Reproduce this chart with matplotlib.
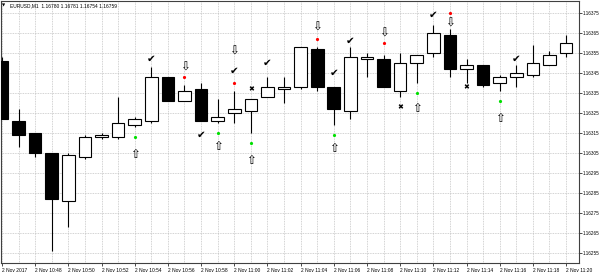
import matplotlib
matplotlib.use("Agg")
import matplotlib.pyplot as plt

# данные свечей EURUSD M1, 2 Nov 2017 10:46 .. 11:20
times = ["10:46", "10:47", "10:48", "10:49", "10:50", "10:51", "10:52", "10:53", "10:54",
         "10:55", "10:56", "10:57", "10:58", "10:59", "11:00", "11:01", "11:02", "11:03",
         "11:04", "11:05", "11:06", "11:07", "11:08", "11:09", "11:10", "11:11", "11:12",
         "11:13", "11:14", "11:15", "11:16", "11:17", "11:18", "11:19", "11:20"]
opens = [1.16351, 1.16321, 1.16315, 1.16305, 1.16281, 1.16303, 1.16313, 1.16313, 1.16319,
         1.16321, 1.16343, 1.16331, 1.16337, 1.16321, 1.16325, 1.16326, 1.16333, 1.16337,
         1.16338, 1.16357, 1.16338, 1.16326, 1.16352, 1.16352, 1.16336, 1.16350, 1.16355,
         1.16364, 1.16347, 1.16349, 1.16340, 1.16343, 1.16344, 1.16349, 1.16355]
highs = [1.16353, 1.16327, 1.16315, 1.16305, 1.16305, 1.16314, 1.16315, 1.16333, 1.16323,
         1.16348, 1.16343, 1.16339, 1.16340, 1.16332, 1.16336, 1.16332, 1.16343, 1.16343,
         1.16358, 1.16358, 1.16338, 1.16358, 1.16355, 1.16354, 1.16355, 1.16354, 1.16369,
         1.16367, 1.16352, 1.16349, 1.16344, 1.16349, 1.16359, 1.16356, 1.16364]
lows = [1.16322, 1.16308, 1.16303, 1.16256, 1.16268, 1.16302, 1.16312, 1.16312, 1.16318,
        1.16320, 1.16331, 1.16331, 1.16321, 1.16320, 1.16320, 1.16315, 1.16333, 1.16330,
        1.16337, 1.16336, 1.16319, 1.16322, 1.16343, 1.16338, 1.16333, 1.16340, 1.16353,
        1.16343, 1.16340, 1.16338, 1.16336, 1.16338, 1.16343, 1.16349, 1.16353]
closes = [1.16322, 1.16314, 1.16305, 1.16282, 1.16304, 1.16313, 1.16314, 1.16320, 1.16322,
          1.16343, 1.16331, 1.16336, 1.16321, 1.16323, 1.16327, 1.16332, 1.16338, 1.16338,
          1.16358, 1.16338, 1.16327, 1.16353, 1.16353, 1.16338, 1.16350, 1.16354, 1.16365,
          1.16347, 1.16349, 1.16339, 1.16343, 1.16345, 1.16350, 1.16354, 1.16360]

# сигналы индикатора: индекс бара и цена
check_idx = [9, 12, 14, 16, 20, 21, 26, 31]
check_price = [1.16352, 1.16314, 1.16346, 1.16350, 1.16345, 1.16361, 1.16374, 1.16352]
red_idx = [11, 14, 19, 23, 27]
red_price = [1.16343, 1.16340, 1.16362, 1.16360, 1.16375]
down_idx = [11, 14, 19, 23, 27]
down_price = [1.16348, 1.16356, 1.16368, 1.16365, 1.16370]
green_idx = [8, 13, 15, 20, 25, 30]
green_price = [1.16313, 1.16315, 1.16310, 1.16314, 1.16335, 1.16331]
up_idx = [8, 13, 15, 20, 25, 30]
up_price = [1.16304, 1.16308, 1.16301, 1.16307, 1.16327, 1.16322]
cross_idx = [15, 24, 28]
cross_price = [1.16337, 1.16328, 1.16338]

price_ticks = [1.16255, 1.16265, 1.16275, 1.16285, 1.16295, 1.16305, 1.16315,
               1.16325, 1.16335, 1.16345, 1.16355, 1.16365, 1.16375]
header = "EURUSD,M1  1.16780 1.16781 1.16754 1.16759"

plt.rcParams['font.family'] = ['Liberation Sans', 'DejaVu Sans']
fig = plt.figure(figsize=(6, 2.74), dpi=100)
ax = fig.add_axes([1 / 600, 1 - 262.7 / 274, 578 / 600, 261.7 / 274])

n = len(times)
xs = list(range(n))

# свечи
for i in xs:
    o, h, l, c = opens[i], highs[i], lows[i], closes[i]
    ax.vlines(i, l, h, color="black", linewidth=0.8, zorder=2)
    bottom = min(o, c)
    height = max(abs(c - o), 0.000004)
    fill = "white" if c >= o else "black"
    ax.bar(i, height, bottom=bottom, width=0.76, color=fill, edgecolor="black",
           linewidth=0.8, zorder=3)

# значки
for i, p in zip(check_idx, check_price):
    ax.text(i, p, "\u2714", ha="center", va="center", fontsize=7.5,
            family="DejaVu Sans", zorder=4)
for i, p in zip(down_idx, down_price):
    ax.text(i, p, "\u21e9", ha="center", va="center", fontsize=8.5,
            family="DejaVu Sans", zorder=4)
for i, p in zip(up_idx, up_price):
    ax.text(i, p, "\u21e7", ha="center", va="center", fontsize=8.5,
            family="DejaVu Sans", zorder=4)
for i, p in zip(cross_idx, cross_price):
    ax.text(i, p, "\u2716", ha="center", va="center", fontsize=5,
            family="DejaVu Sans", zorder=4)
ax.plot(red_idx, red_price, "o", color="#ff0000", markersize=2.3, markeredgewidth=0, zorder=4)
ax.plot(green_idx, green_price, "o", color="#00e000", markersize=2.3, markeredgewidth=0, zorder=4)

ax.set_xlim(-0.06, 34.78)
ax.set_ylim(1.16250, 1.163809)

# сетка
ax.set_xticks(xs, minor=True)
ax.set_xticks(xs[::2])
labels = ["2 Nov 2017"] + ["2 Nov " + t for t in times[2::2]]
ax.set_xticklabels(labels, fontsize=3.5, ha="left")
ax.set_yticks(price_ticks)
ax.set_yticklabels(["%.5f" % p for p in price_ticks], fontsize=3.3)
ax.yaxis.tick_right()
ax.tick_params(axis="y", length=2, width=0.5, pad=1)
ax.tick_params(axis="x", which="major", length=2, width=0.5, pad=1.5)
ax.tick_params(axis="x", which="minor", length=0)
ax.grid(True, which="both", axis="x", linestyle=(0, (1.2, 1.2)), color="#b8b8b8", linewidth=0.5, zorder=0)
ax.grid(True, which="major", axis="y", linestyle=(0, (1.2, 1.2)), color="#b8b8b8", linewidth=0.5, zorder=0)
ax.set_axisbelow(True)
for s in ax.spines.values():
    s.set_color("#404040")
    s.set_linewidth(0.8)

fig.text(4 / 600, 1 - 5.5 / 274, "\u25bc", fontsize=3, va="center", ha="center", family="DejaVu Sans")
fig.text(10 / 600, 1 - 5.5 / 274, header, fontsize=3.5, va="center", ha="left")

fig.savefig("out.png", dpi=100)
